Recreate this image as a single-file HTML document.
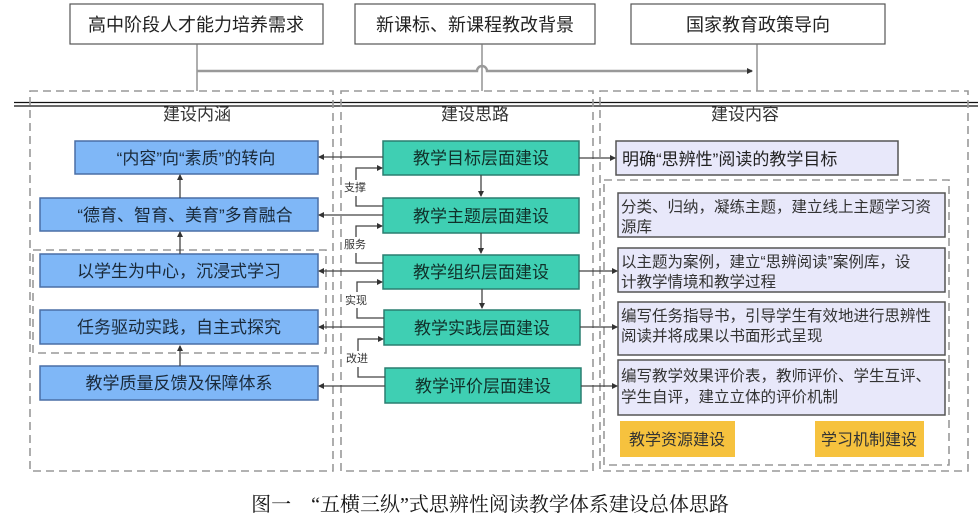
<!DOCTYPE html>
<html><head><meta charset="utf-8"><style>
body{margin:0;background:#fff;}
svg{display:block;}
text{font-family:"Liberation Sans","Noto Sans CJK SC",sans-serif;}
</style></head><body>
<svg width="978" height="522" viewBox="0 0 978 522" xmlns="http://www.w3.org/2000/svg">
<defs>
<marker id="a" markerWidth="6" markerHeight="6" refX="5" refY="3" orient="auto" markerUnits="userSpaceOnUse"><path d="M0,0 L6,3 L0,6 z" fill="#333"/></marker>
</defs>
<g fill="#fff" stroke="#555" stroke-width="1.2">
<rect x="70" y="4" width="253" height="40"/>
<rect x="355" y="4" width="240" height="40"/>
<rect x="631" y="4" width="254" height="40"/>
</g>
<g font-size="18" fill="#222" text-anchor="middle">
<text x="196" y="31">高中阶段人才能力培养需求</text>
<text x="475" y="31">新课标、新课程教改背景</text>
<text x="758" y="31">国家教育政策导向</text>
</g>
<g stroke="#777" stroke-width="1.2" fill="none">
<line x1="197" y1="44" x2="197" y2="91"/>
<line x1="757" y1="44" x2="757" y2="91"/>
<line x1="482" y1="44" x2="482" y2="91"/>
<path d="M197,71 H477 A5,5 0 0 1 487,71 H752" stroke-width="2.4" stroke="#999" marker-end="url(#a)"/>
</g>
<line x1="14" y1="102.5" x2="978" y2="102.5" stroke="#111" stroke-width="1.3"/>
<line x1="14" y1="106" x2="978" y2="106" stroke="#111" stroke-width="1.3"/>
<g fill="none" stroke="#999" stroke-width="1.6" stroke-dasharray="8,5">
<rect x="30" y="91" width="303" height="380"/>
<rect x="341" y="91" width="252" height="380"/>
<rect x="600" y="91" width="368" height="380"/>
<rect x="33" y="250" width="293" height="103"/>
<rect x="604" y="180" width="345" height="285"/>
</g>
<g font-size="17" fill="#333" text-anchor="middle">
<text x="197" y="120">建设内涵</text>
<text x="475" y="120">建设思路</text>
<text x="745" y="120">建设内容</text>
</g>
<g fill="#7fb7f7" stroke="#4a6fa5" stroke-width="1.5">
<rect x="75" y="141" width="243" height="33"/>
<rect x="40" y="198" width="278" height="33"/>
<rect x="40" y="254" width="278" height="33"/>
<rect x="40" y="310" width="278" height="34"/>
<rect x="40" y="366" width="278" height="34"/>
</g>
<g font-size="17" fill="#1a2a3a" text-anchor="middle">
<text x="196" y="164">“内容”向“素质”的转向</text>
<text x="185" y="221">“德育、智育、美育”多育融合</text>
<text x="179" y="277">以学生为中心，沉浸式学习</text>
<text x="179" y="333">任务驱动实践，自主式探究</text>
<text x="179" y="389">教学质量反馈及保障体系</text>
</g>
<g fill="#3fcfb3" stroke="#2a7f70" stroke-width="1.5">
<rect x="383" y="141" width="196" height="34"/>
<rect x="383" y="198" width="196" height="35"/>
<rect x="383" y="255" width="196" height="34"/>
<rect x="384" y="310" width="196" height="35"/>
<rect x="385" y="368" width="196" height="35"/>
</g>
<g font-size="17" fill="#10302a" text-anchor="middle">
<text x="481" y="164">教学目标层面建设</text>
<text x="481" y="222">教学主题层面建设</text>
<text x="481" y="278">教学组织层面建设</text>
<text x="482" y="334">教学实践层面建设</text>
<text x="483" y="392">教学评价层面建设</text>
</g>
<g fill="#e8e8fa" stroke="#555" stroke-width="1.5">
<rect x="616" y="141" width="282" height="34"/>
<rect x="618" y="193" width="327" height="44"/>
<rect x="618" y="248" width="327" height="44"/>
<rect x="618" y="302" width="327" height="53"/>
<rect x="618" y="360" width="327" height="55"/>
</g>
<text x="622" y="165" font-size="17" fill="#222">明确“思辨性”阅读的教学目标</text>
<g font-size="15.5" fill="#333">
<text x="621" y="212">分类、归纳，凝练主题，建立线上主题学习资</text><text x="621" y="232">源库</text>
<text x="621" y="267">以主题为案例，建立“思辨阅读”案例库，设</text><text x="621" y="287">计教学情境和教学过程</text>
<text x="621" y="321">编写任务指导书，引导学生有效地进行思辨性</text><text x="621" y="341">阅读并将成果以书面形式呈现</text>
<text x="621" y="381">编写教学效果评价表，教师评价、学生互评、</text><text x="621" y="402">学生自评，建立立体的评价机制</text>
</g>
<rect x="620" y="421" width="115" height="36" fill="#f6c23e"/>
<rect x="815" y="421" width="109" height="36" fill="#f6c23e"/>
<g font-size="16" fill="#333" text-anchor="middle">
<text x="677" y="445">教学资源建设</text>
<text x="869" y="445">学习机制建设</text>
</g>
<g stroke="#444" stroke-width="1.3" fill="none" marker-end="url(#a)">
<line x1="383" y1="157" x2="319" y2="157"/>
<line x1="383" y1="215" x2="319" y2="215"/>
<line x1="383" y1="271" x2="319" y2="271"/>
<line x1="384" y1="327" x2="319" y2="327"/>
<line x1="385" y1="386" x2="319" y2="386"/>
<line x1="579" y1="158" x2="615" y2="158"/>
<line x1="579" y1="271" x2="617" y2="271"/>
<line x1="580" y1="327" x2="617" y2="327"/>
<line x1="581" y1="386" x2="617" y2="386"/>
<line x1="481" y1="175" x2="481" y2="196"/>
<line x1="481" y1="233" x2="481" y2="253"/>
<line x1="482" y1="289" x2="482" y2="308"/>
<line x1="180" y1="198" x2="180" y2="175"/>
<line x1="180" y1="254" x2="180" y2="232"/>
<line x1="180" y1="366" x2="180" y2="346"/>
<path d="M383,206 H356 V196 M356,180 V168 H382"/>
<path d="M383,263 H356 V253 M356,237 V226 H382"/>
<path d="M384,318 H357 V308 M357,292 V282 H382"/>
<path d="M385,377 H358 V367 M358,351 V339 H383"/>
</g>
<g font-size="11" fill="#333">
<text x="344" y="191">支撑</text>
<text x="344" y="248">服务</text>
<text x="345" y="304">实现</text>
<text x="346" y="362">改进</text>
</g>
<text x="490" y="511" font-size="20" fill="#111" text-anchor="middle" style="font-family:'Liberation Serif','Noto Serif CJK SC',serif">图一　“五横三纵”式思辨性阅读教学体系建设总体思路</text>
</svg>
</body></html>
